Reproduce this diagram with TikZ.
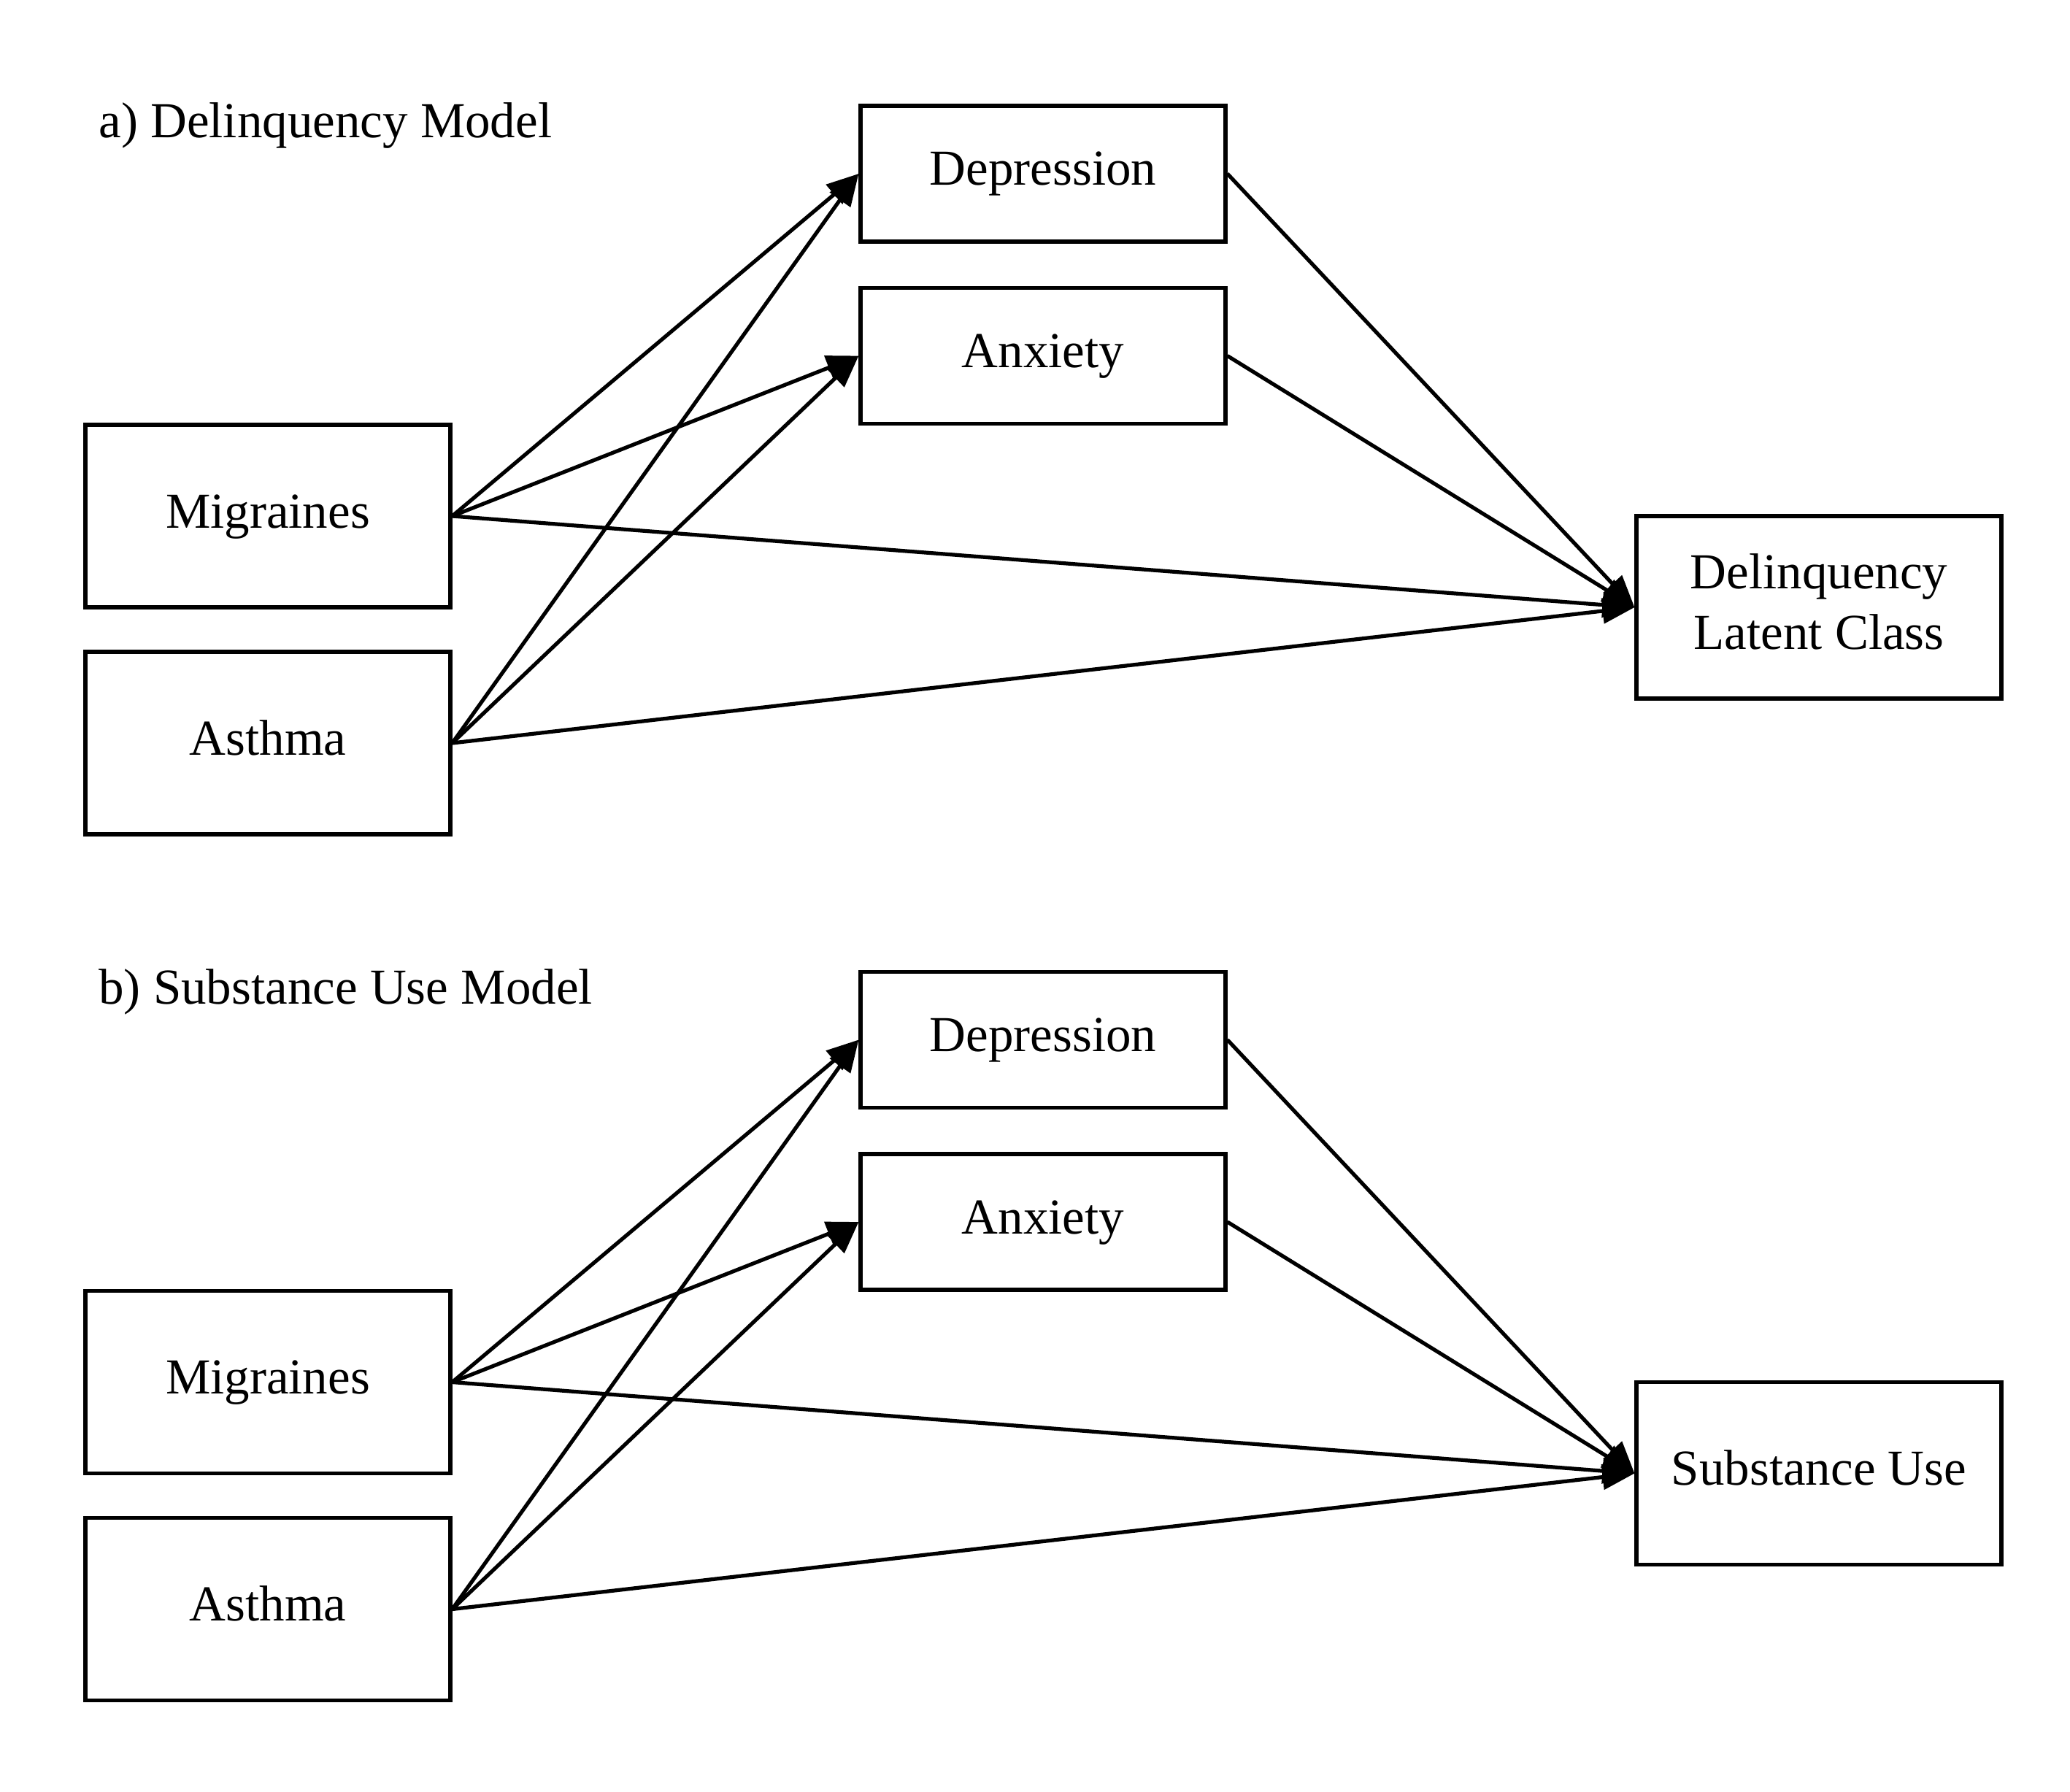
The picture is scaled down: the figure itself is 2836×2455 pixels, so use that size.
\documentclass[tikz,border=0pt]{standalone}
\usepackage{fontspec}
\setmainfont{Liberation Serif}
\usetikzlibrary{arrows.meta}
\begin{document}
\begin{tikzpicture}[x=0.5pt,y=-0.5pt,
  box/.style={draw, line width=2.6pt, inner sep=0pt, minimum width=250pt,
    font=\fontsize{34.5}{41.5}\selectfont, align=center},
  small/.style={box, minimum height=93pt, text height=23.5pt, text depth=7.5pt},
  tall/.style={box, minimum height=125pt, text height=23.5pt, text depth=7.5pt},
  tallml/.style={box, minimum height=125pt, text depth=7.5pt},
  ttl/.style={anchor=base west, inner sep=0pt, font=\fontsize{34.5}{41.5}\selectfont},
  edge/.style={line width=2.6pt, -{Triangle[length=22pt,width=17pt]}}]
\useasboundingbox (0,0) rectangle (2836,2455);
\fill[white] (0,0) rectangle (2836,2455);

% panel a
\node[ttl] (ta) at (135,189) {a) Delinquency Model};
\node[small] (depa) at (1429,238) {Depression};
\node[small] (anxa) at (1429,487.5) {Anxiety};
\node[tall] (miga) at (367,707) {Migraines};
\node[tall] (asta) at (367,1018) {Asthma};
\node[tallml] (dela) at (2492,832) {Delinquency\\Latent Class};
\draw[edge] (miga.east) -- (depa.west);
\draw[edge] (miga.east) -- (anxa.west);
\draw[edge] (miga.east) -- (dela.west);
\draw[edge] (asta.east) -- (depa.west);
\draw[edge] (asta.east) -- (anxa.west);
\draw[edge] (asta.east) -- (dela.west);
\draw[edge] (depa.east) -- (dela.west);
\draw[edge] (anxa.east) -- (dela.west);

% panel b
\node[ttl] (tb) at (135,1375.5) {b) Substance Use Model};
\node[small] (depb) at (1429,1424.5) {Depression};
\node[small] (anxb) at (1429,1674) {Anxiety};
\node[tall] (migb) at (367,1893.5) {Migraines};
\node[tall] (astb) at (367,2204.5) {Asthma};
\node[tall] (subb) at (2492,2018.5) {Substance Use};
\draw[edge] (migb.east) -- (depb.west);
\draw[edge] (migb.east) -- (anxb.west);
\draw[edge] (migb.east) -- (subb.west);
\draw[edge] (astb.east) -- (depb.west);
\draw[edge] (astb.east) -- (anxb.west);
\draw[edge] (astb.east) -- (subb.west);
\draw[edge] (depb.east) -- (subb.west);
\draw[edge] (anxb.east) -- (subb.west);
\end{tikzpicture}
\end{document}
